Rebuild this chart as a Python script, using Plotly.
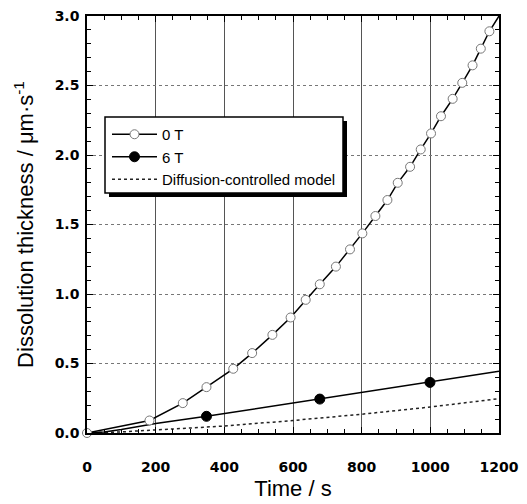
import plotly.graph_objects as go

# ---- data ----
t0_time = [0, 182, 279, 348, 426, 481, 540, 593, 637, 678, 725, 766, 802, 840, 875,
           905, 941, 972, 1002, 1031, 1065, 1093, 1123, 1147, 1172]
t0_thick = [0.0, 0.09, 0.215, 0.33, 0.462, 0.575, 0.706, 0.831, 0.958, 1.07, 1.197,
            1.321, 1.436, 1.561, 1.676, 1.80, 1.915, 2.04, 2.155, 2.279, 2.404,
            2.519, 2.645, 2.765, 2.89]
t0_fit_time = t0_time + [1200]
t0_fit_thick = t0_thick + [3.0]

t6_time = [348, 678, 999]
t6_thick = [0.12, 0.244, 0.364]
t6_fit_time = [0, 50, 100, 150, 200, 348, 678, 999, 1200]
t6_fit_thick = [0.0, 0.008, 0.025, 0.048, 0.068, 0.12, 0.244, 0.364, 0.445]

model_time = [0, 100, 200, 400, 600, 800, 1000, 1200]
model_thick = [0.0, 0.008, 0.022, 0.05, 0.09, 0.135, 0.187, 0.247]

x_ticks = [0, 200, 400, 600, 800, 1000, 1200]
y_ticks = [0.0, 0.5, 1.0, 1.5, 2.0, 2.5, 3.0]

# ---- layout constants (pixels) ----
W, H = 527, 504
L, R, T, B = 87, 28, 16, 71
PW, PH = W - L - R, H - T - B

def px2paper(px, py):
    return (px - L) / PW, (H - B - py) / PH

open_marker = dict(symbol="circle", size=9, color="white", line=dict(color="#777", width=1))
fill_marker = dict(symbol="circle", size=10, color="black", line=dict(color="black", width=1))

fig = go.Figure()
fig.add_trace(go.Scatter(x=model_time, y=model_thick, mode="lines",
                         line=dict(color="#222", width=1.5, dash="dot"),
                         showlegend=False, hoverinfo="skip"))
fig.add_trace(go.Scatter(x=t6_fit_time, y=t6_fit_thick, mode="lines",
                         line=dict(color="black", width=1.5), showlegend=False))
fig.add_trace(go.Scatter(x=t0_fit_time, y=t0_fit_thick, mode="lines",
                         line=dict(color="black", width=1.5), showlegend=False))
fig.add_trace(go.Scatter(x=t0_time, y=t0_thick, mode="markers", marker=open_marker,
                         showlegend=False, cliponaxis=False))
fig.add_trace(go.Scatter(x=t6_time, y=t6_thick, mode="markers", marker=fill_marker,
                         showlegend=False, cliponaxis=False))

# legend entries
fig.add_trace(go.Scatter(x=[None], y=[None], mode="lines+markers", name="0 T",
                         line=dict(color="black", width=1.5), marker=open_marker))
fig.add_trace(go.Scatter(x=[None], y=[None], mode="lines+markers", name="6 T",
                         line=dict(color="black", width=1.5), marker=fill_marker))
fig.add_trace(go.Scatter(x=[None], y=[None], mode="lines", name="Diffusion-controlled model",
                         line=dict(color="#222", width=1.5, dash="dot")))

# legend box with shadow
bx0, by0, bx1, by1 = 105, 117, 343, 193
sh = 4
s0 = px2paper(bx0 + sh, by1 + sh); s1 = px2paper(bx1 + sh, by0 + sh)
b0 = px2paper(bx0, by1); b1 = px2paper(bx1, by0)
fig.add_shape(type="rect", xref="paper", yref="paper", x0=s0[0], y0=s0[1], x1=s1[0], y1=s1[1],
              fillcolor="black", line=dict(width=0), layer="above")
fig.add_shape(type="rect", xref="paper", yref="paper", x0=b0[0], y0=b0[1], x1=b1[0], y1=b1[1],
              fillcolor="white", line=dict(color="black", width=1.5), layer="above")

lx, ly = px2paper(bx0 + 2, by0 + 1)

tickfont = dict(family="DejaVu Sans", size=14, color="black", weight="bold")
axis_common = dict(showline=True, linecolor="black", linewidth=1.5, mirror="allticks",
                   ticks="inside", ticklen=6, tickcolor="black", tickwidth=1,
                   tickfont=tickfont, zeroline=False, automargin=False)

fig.update_layout(
    width=W, height=H,
    margin=dict(l=L, r=R, t=T, b=B),
    paper_bgcolor="white", plot_bgcolor="white",
    font=dict(family="Liberation Sans", color="black"),
    xaxis=dict(range=[0, 1200], tickvals=x_ticks, ticktext=[str(v) for v in x_ticks],
               showgrid=True, gridcolor="#555", gridwidth=1, griddash="solid",
               minor=dict(dtick=50, tick0=0, ticks="inside", ticklen=4, tickcolor="black", showgrid=False),
               ticklabelstandoff=20,
               title=dict(text="Time / s", font=dict(size=22, family="Liberation Sans"), standoff=7),
               **axis_common),
    yaxis=dict(range=[0, 3], tickvals=y_ticks, ticktext=[f"{v:.1f}" for v in y_ticks],
               showgrid=True, gridcolor="#777", gridwidth=1, griddash="dot",
               minor=dict(dtick=0.1, tick0=0, ticks="inside", ticklen=4, tickcolor="black", showgrid=False),
               ticklabelstandoff=3,
               title=dict(text="Dissolution thickness / μm·s<sup>-1</sup>",
                          font=dict(size=22, family="Liberation Sans"), standoff=15),
               **axis_common),
    legend=dict(x=lx, y=ly, xanchor="left", yanchor="top", bgcolor="rgba(0,0,0,0)",
                borderwidth=0, font=dict(size=15, family="Liberation Sans"),
                itemwidth=45, tracegroupgap=0),
    showlegend=True,
)

fig.write_html("out.html", config={"displayModeBar": False},
               post_script="document.body.style.margin='0';document.body.style.padding='0';")
